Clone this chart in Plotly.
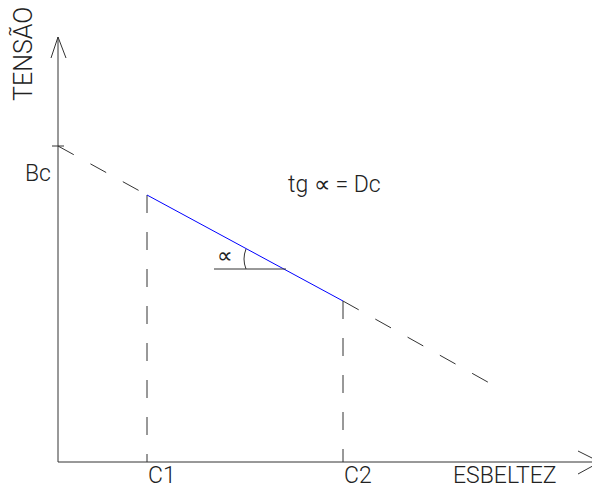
import plotly.graph_objects as go

# ---- data (in chart units: origin at the axes' intersection) ----
bc_value = 316          # stress at zero slenderness (Bc)
c1_value = 89           # slenderness C1
c2_value = 285          # slenderness C2
stress_at_c1 = 267
stress_at_c2 = 161
dashed_end_x = 435
dashed_end_y = 77
x_axis_end = 542
y_axis_end = 425

x_arrow_x = [520, 542, 520]
x_arrow_y = [11, 0, -12]
y_arrow_x = [-7, 0, 8]
y_arrow_y = [404, 425, 404]

bc_tick_x = [-6, 6]
angle_ref_x = [156, 228]
angle_ref_y = [193, 193]
arc_x = [188, 186.5, 186, 186.5, 188]
arc_y = [213, 208, 203, 198, 193]

tick_labels = ["C1", "C2"]
x_title = "ESBELTEZ"
y_title = "TENSÃO"
bc_label = "Bc"
formula = "tg ∝ = Dc"
angle_label = "∝"

LINE = "#333333"
TEXT = "#222222"
FONT = "Roboto, Liberation Sans Narrow, sans-serif"
DASH = "18px,19px"

fig = go.Figure()

def add_line(xs, ys, color=LINE, dash="solid", width=1):
    fig.add_trace(go.Scatter(x=xs, y=ys, mode="lines",
                             line=dict(color=color, width=width, dash=dash),
                             hoverinfo="skip", showlegend=False))

# axes with arrows
add_line([0, x_axis_end], [0, 0])
add_line([0, 0], [0, y_axis_end])
add_line(x_arrow_x, x_arrow_y)
add_line(y_arrow_x, y_arrow_y)
# Bc tick
add_line(bc_tick_x, [bc_value, bc_value])
# dashed extensions of the line
add_line([0, c1_value], [bc_value, stress_at_c1], dash=DASH)
add_line([c2_value, dashed_end_x], [stress_at_c2, dashed_end_y], dash=DASH)
# vertical dashed at C1, C2
add_line([c1_value, c1_value], [stress_at_c1, 0], dash=DASH)
add_line([c2_value, c2_value], [stress_at_c2, 0], dash=DASH)
# blue segment
add_line([c1_value, c2_value], [stress_at_c1, stress_at_c2], color="#0000ff")
# angle reference
add_line(angle_ref_x, angle_ref_y)
add_line(arc_x, arc_y)

ann = [
    dict(x=c1_value, y=-13, text=tick_labels[0], xanchor="left", yanchor="middle", font_size=23),
    dict(x=c2_value, y=-13, text=tick_labels[1], xanchor="left", yanchor="middle", font_size=23),
    dict(x=447, y=-13, text=x_title, xanchor="center", yanchor="middle", font_size=23),
    dict(x=-35, y=408, text=y_title, textangle=-90, xanchor="center", yanchor="middle", font_size=25),
    dict(x=-20, y=289, text=bc_label, xanchor="center", yanchor="middle", font_size=23),
    dict(x=276, y=278, text=formula, xanchor="center", yanchor="middle", font_size=23),
    dict(x=167, y=207, text=angle_label, xanchor="center", yanchor="middle", font_size=22),
]
for a in ann:
    fs = a.pop("font_size")
    fig.add_annotation(**a, showarrow=False, xref="x", yref="y", borderpad=0,
                       font=dict(family=FONT, size=fs, color=TEXT, weight=300))

# page body has an 8px margin: ranges chosen so the axes sit where the reference has them
fig.update_layout(
    width=600, height=489,
    margin=dict(l=0, r=0, t=0, b=0),
    paper_bgcolor="white", plot_bgcolor="white",
    xaxis=dict(range=[-50, 550], visible=False, fixedrange=True),
    yaxis=dict(range=[-35, 454], visible=False, fixedrange=True),
    showlegend=False,
)

fig.write_html("out.html", config=dict(displayModeBar=False))
